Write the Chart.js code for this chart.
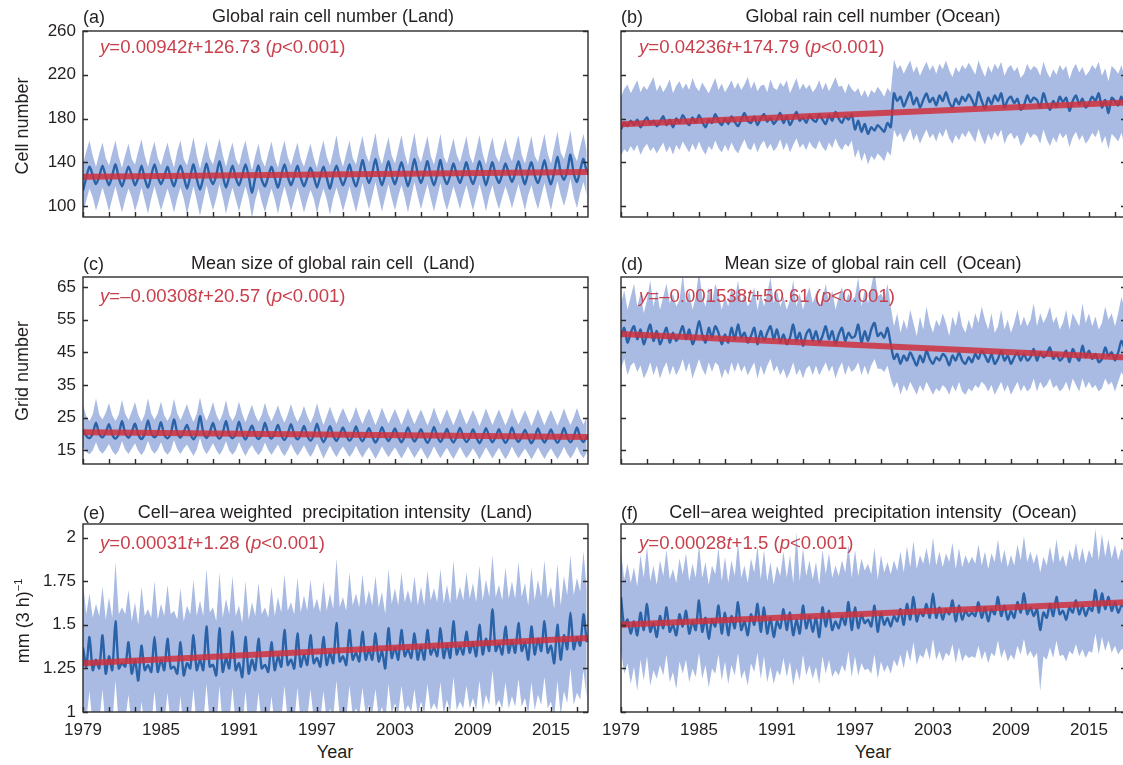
<!DOCTYPE html>
<html><head><meta charset="utf-8">
<script src="https://cdn.jsdelivr.net/npm/chart.js@4.4.1/dist/chart.umd.min.js"></script>
<style>
html,body{margin:0;padding:0;background:#fff;overflow:hidden;width:1123px;height:765px;}
body{position:relative;font-family:"Liberation Sans",Arial,sans-serif;color:#231f20;}
canvas{position:absolute;}
.t{position:absolute;white-space:pre;font-size:18px;line-height:1;transform:translate(-50%,-50%);}
.lb{position:absolute;white-space:pre;font-size:18px;line-height:1;transform:translateY(-50%);}
.eq{position:absolute;white-space:pre;font-size:18.6px;line-height:1;color:#c8404c;transform:translateY(-50%);}
.yt{position:absolute;white-space:pre;font-size:18px;line-height:1;transform:translate(-50%,-50%) rotate(-90deg);}
sup{font-size:11px;vertical-align:7px;}
</style></head><body>
<canvas id="cA" width="600" height="222" style="left:0;top:13px;width:600px;height:222px"></canvas>
<canvas id="cB" width="580" height="222" style="left:560px;top:13px;width:580px;height:222px"></canvas>
<canvas id="cC" width="600" height="223" style="left:0;top:259px;width:600px;height:223px"></canvas>
<canvas id="cD" width="580" height="223" style="left:560px;top:259px;width:580px;height:223px"></canvas>
<canvas id="cE" width="600" height="234" style="left:0;top:506px;width:600px;height:234px"></canvas>
<canvas id="cF" width="580" height="234" style="left:560px;top:506px;width:580px;height:234px"></canvas>

<div class="lb" style="left:83px;top:17px">(a)</div>
<div class="t" style="left:333px;top:16px">Global rain cell number (Land)</div>
<div class="lb" style="left:621px;top:17px">(b)</div>
<div class="t" style="left:873px;top:16px">Global rain cell number (Ocean)</div>
<div class="lb" style="left:83px;top:264px">(c)</div>
<div class="t" style="left:333px;top:263px">Mean size of global rain cell  (Land)</div>
<div class="lb" style="left:621px;top:264px">(d)</div>
<div class="t" style="left:873px;top:263px">Mean size of global rain cell  (Ocean)</div>
<div class="lb" style="left:83px;top:513px">(e)</div>
<div class="t" style="left:335px;top:512px">Cell−area weighted  precipitation intensity  (Land)</div>
<div class="lb" style="left:621px;top:513px">(f)</div>
<div class="t" style="left:873px;top:512px">Cell−area weighted  precipitation intensity  (Ocean)</div>

<div class="eq" style="left:100px;top:47px"><i>y</i>=0.00942<i>t</i>+126.73 (<i>p</i>&lt;0.001)</div>
<div class="eq" style="left:639px;top:47px"><i>y</i>=0.04236<i>t</i>+174.79 (<i>p</i>&lt;0.001)</div>
<div class="eq" style="left:100px;top:296px"><i>y</i>=–0.00308<i>t</i>+20.57 (<i>p</i>&lt;0.001)</div>
<div class="eq" style="left:639px;top:296px"><i>y</i>=–0.001538<i>t</i>+50.61 (<i>p</i>&lt;0.001)</div>
<div class="eq" style="left:100px;top:543px"><i>y</i>=0.00031<i>t</i>+1.28 (<i>p</i>&lt;0.001)</div>
<div class="eq" style="left:639px;top:543px"><i>y</i>=0.00028<i>t</i>+1.5 (<i>p</i>&lt;0.001)</div>

<div class="yt" style="left:22px;top:126px">Cell number</div>
<div class="yt" style="left:22px;top:371px">Grid number</div>
<div class="yt" style="left:22px;top:621px">mm (3 h)<sup>−1</sup></div>
<div class="t" style="left:335px;top:752px">Year</div>
<div class="t" style="left:873px;top:752px">Year</div>

<script>
// ---- axes ----
const xRange = [1979, 2017.85];
const xTickYears = [1979,1981,1983,1985,1987,1989,1991,1993,1995,1997,1999,2001,2003,2005,2007,2009,2011,2013,2015,2017];
const xLabelYears = [1979,1985,1991,1997,2003,2009,2015];
const yTicksCount = [100,140,180,220,260];
const yTicksSize = [15,25,35,45,55,65];
const yTicksInt = [1,1.25,1.5,1.75,2];
const yRangeCount = [90,260];
const yRangeSize = [10.85,68.05];
const yRangeInt = [1,2.078];

// ---- series: quarterly samples (Jan, Apr, Jul, Oct) 1979-2017 ----
const cellLandMean = [
114,126,136,128, 120,127,137,127, 119,128,138,126, 118,127,136,128, 119,126,137,125,
117,128,138,127, 120,127,136,126, 118,128,137,127, 116,127,138,125, 115,126,139,127,
120,128,141,128, 117,127,137,126, 119,128,138,127, 112,126,137,124, 118,127,136,126,
117,128,138,127, 119,127,137,126, 118,126,135,127, 117,127,136,126, 116,128,137,127,
119,127,138,126, 118,128,142,130, 121,130,143,129, 119,129,141,128, 120,130,140,129,
118,129,143,130, 121,130,141,128, 119,129,142,127, 120,128,139,129, 121,130,140,128,
120,129,141,130, 119,130,140,128, 121,129,139,130, 122,130,141,129, 120,131,140,128,
121,130,142,129, 120,131,145,131, 124,132,147,130, 122,133,143,131];
const cellLandHi = [
138,150,160,146, 136,148,158,144, 137,149,160,145, 135,147,157,143, 138,150,161,146,
136,149,159,144, 137,148,158,145, 135,150,160,143, 137,149,163,146, 134,147,159,144,
138,150,162,147, 136,148,158,143, 137,150,160,145, 133,146,157,142, 136,148,159,144,
135,149,160,145, 137,148,158,143, 136,147,157,144, 135,149,160,145, 137,150,165,146,
136,148,160,144, 138,152,164,148, 140,153,167,147, 138,151,163,146, 139,152,165,148,
137,153,167,147, 140,152,164,146, 138,151,166,145, 139,150,162,147, 140,152,164,146,
139,151,165,148, 138,152,163,146, 140,151,162,148, 141,153,165,147, 139,152,164,146,
140,153,166,148, 139,154,168,149, 143,155,169,148, 141,154,166,150];
const cellLandLo = [
92,105,116,108, 96,106,117,107, 95,107,118,106, 94,106,116,108, 95,105,117,105,
93,107,118,107, 96,106,116,106, 94,107,117,107, 92,106,118,105, 91,105,119,107,
96,107,120,108, 93,106,117,106, 95,107,118,107, 89,105,116,104, 94,106,116,106,
93,107,118,107, 95,106,117,106, 94,105,115,107, 93,106,116,106, 92,107,117,107,
95,106,118,106, 94,107,121,109, 97,109,122,108, 95,108,120,107, 96,109,119,108,
94,108,122,109, 97,109,120,107, 95,108,121,106, 96,107,118,108, 97,109,119,107,
96,108,120,109, 95,109,119,107, 97,108,118,109, 98,109,120,108, 96,110,119,107,
97,109,121,108, 96,110,123,110, 100,111,125,109, 98,112,122,110];

const cellOceanMean = [
170,176,173,178, 174,179,172,177, 181,175,178,173, 177,182,174,179, 172,180,176,183,
178,174,181,176, 183,177,172,179, 176,184,178,174, 180,175,182,177, 173,179,185,178,
176,182,174,180, 184,177,181,175, 179,185,176,182, 174,180,186,178, 181,176,183,179,
177,184,179,175, 183,178,186,180, 176,182,179,184, 170,178,168,175, 166,172,169,174,
171,168,176,172, 203,196,200,191, 198,204,193,199, 190,197,203,195, 199,192,201,196,
204,195,190,198, 193,200,196,202, 197,191,204,196, 189,199,193,201, 196,203,190,197,
200,194,198,188, 192,201,195,199, 197,190,203,194, 188,196,191,200, 195,199,187,196,
201,193,198,190, 194,200,196,203, 190,197,185,199, 196,192,200,188];
const cellOceanHi = [
200,207,211,203, 209,215,204,210, 206,212,218,205, 211,204,209,216, 203,210,214,207,
212,206,217,209, 205,213,208,203, 210,217,206,212, 204,209,215,207, 213,206,211,218,
207,214,205,210, 211,204,216,208, 206,213,209,215, 203,210,217,206, 212,207,211,204,
208,215,206,213, 205,211,218,209, 210,203,212,207, 204,208,200,206, 199,206,203,209,
205,200,208,204, 234,225,229,221, 227,233,222,228, 219,226,232,224, 229,221,230,225,
233,224,218,227, 222,229,225,231, 226,220,233,225, 218,228,222,230, 225,232,219,226,
229,223,227,217, 221,230,224,228, 226,219,232,223, 217,225,220,229, 224,228,216,225,
230,222,227,219, 223,229,225,232, 219,226,214,228, 225,221,229,217];
const cellOceanLo = [
146,152,149,155, 150,156,147,153, 157,150,154,148, 153,158,149,155, 147,156,151,159,
154,149,157,151, 159,152,147,155, 151,160,153,149, 156,150,158,152, 148,155,161,153,
151,158,149,156, 160,152,157,150, 154,161,151,158, 149,156,162,153, 157,151,159,154,
152,160,154,150, 158,153,162,155, 151,157,154,160, 144,152,141,149, 138,146,142,148,
145,141,150,146, 170,163,167,158, 165,171,160,166, 157,164,170,162, 166,159,168,163,
171,162,157,165, 160,167,163,169, 164,158,171,163, 156,166,160,168, 163,170,157,164,
167,161,165,155, 159,168,162,166, 164,157,170,161, 155,163,158,167, 162,166,154,163,
168,160,165,157, 161,167,163,170, 157,164,152,166, 163,159,167,155];

const sizeLandMean = [
21.5,19.5,18.8,20.2, 23.5,20.0,19.0,20.5, 23.0,19.8,18.6,20.0, 24.0,20.2,18.9,20.6, 23.2,19.9,18.5,20.1,
24.2,20.3,19.0,20.4, 23.6,19.8,18.7,20.0, 24.5,20.4,18.9,20.7, 22.8,20.0,18.4,20.2, 25.5,20.6,18.8,20.5,
23.4,20.1,18.6,20.3, 24.0,19.9,18.7,20.0, 23.8,20.2,18.3,20.4, 22.6,19.8,18.5,19.9, 23.5,20.1,18.6,20.2,
22.8,19.7,18.2,20.0, 23.0,19.9,18.4,19.8, 22.5,19.6,18.0,19.7, 23.2,19.8,17.5,19.5, 22.4,19.5,17.9,19.8,
22.0,19.6,18.0,19.4, 22.3,19.4,17.8,19.6, 21.8,19.3,17.4,19.2, 22.1,19.5,17.9,19.5, 21.7,19.2,17.5,19.3,
22.0,19.4,17.7,19.4, 21.5,19.1,17.3,19.1, 22.2,19.3,17.6,19.3, 21.6,19.0,17.4,19.2, 21.9,19.2,17.6,19.0,
21.4,19.1,17.2,19.1, 21.8,19.3,17.5,19.2, 21.5,19.0,17.3,19.0, 22.0,19.2,17.6,19.1, 21.3,19.0,17.2,19.0,
21.7,19.1,17.4,19.2, 21.4,18.9,17.3,19.0, 21.9,19.1,17.5,19.1, 22.0,19.0,17.6,19.3];
const sizeLandHi = [
29.0,25.5,24.0,26.0, 31.0,26.0,24.5,26.5, 29.5,25.8,24.0,26.0, 30.5,26.2,24.3,26.8, 29.8,25.9,23.8,26.1,
31.0,26.3,24.4,26.4, 30.0,25.8,24.0,26.0, 30.8,26.4,24.2,26.7, 29.2,26.0,23.7,26.2, 31.2,26.6,24.1,26.5,
29.8,26.1,23.9,26.3, 30.4,25.9,24.0,26.0, 30.0,26.2,23.6,26.4, 29.0,25.8,23.8,25.9, 29.6,26.1,23.9,26.2,
28.8,25.7,23.5,26.0, 29.2,25.9,23.7,25.8, 28.6,25.6,23.3,25.7, 29.4,25.8,22.8,25.5, 28.4,25.5,23.2,25.8,
28.0,25.6,23.3,25.4, 28.3,25.4,23.1,25.6, 27.8,25.3,22.7,25.2, 28.1,25.5,23.2,25.5, 27.7,25.2,22.8,25.3,
28.0,25.4,23.0,25.4, 27.5,25.1,22.6,25.1, 28.2,25.3,22.9,25.3, 27.6,25.0,22.7,25.2, 27.9,25.2,22.9,25.0,
27.4,25.1,22.5,25.1, 27.8,25.3,22.8,25.2, 27.5,25.0,22.6,25.0, 28.0,25.2,22.9,25.1, 27.3,25.0,22.5,25.0,
27.7,25.1,22.7,25.2, 27.4,24.9,22.6,25.0, 27.9,25.1,22.8,25.1, 28.0,25.0,22.9,25.3];
const sizeLandLo = [
16.0,14.5,13.8,15.0, 17.5,15.0,14.0,15.3, 17.0,14.8,13.6,15.0, 17.8,15.2,13.9,15.5, 17.2,14.9,13.5,15.1,
18.0,15.3,14.0,15.2, 17.5,14.8,13.7,15.0, 18.2,15.4,13.9,15.6, 16.8,15.0,13.4,15.2, 18.8,15.6,13.8,15.4,
17.3,15.1,13.6,15.2, 17.8,14.9,13.7,15.0, 17.6,15.2,13.3,15.3, 16.7,14.8,13.5,14.9, 17.4,15.1,13.6,15.2,
16.8,14.7,13.2,15.0, 17.0,14.9,13.4,14.8, 16.6,14.6,13.0,14.7, 17.1,14.8,12.5,14.5, 16.5,14.5,12.9,14.8,
16.2,14.6,13.0,14.4, 16.4,14.4,12.8,14.6, 16.0,14.3,12.4,14.2, 16.3,14.5,12.9,14.5, 15.9,14.2,12.5,14.3,
16.2,14.4,12.7,14.4, 15.8,14.1,12.3,14.1, 16.3,14.3,12.6,14.3, 15.8,14.0,12.4,14.2, 16.1,14.2,12.6,14.0,
15.7,14.1,12.2,14.1, 16.0,14.3,12.5,14.2, 15.8,14.0,12.3,14.0, 16.2,14.2,12.6,14.1, 15.6,14.0,12.2,14.0,
15.9,14.1,12.4,14.2, 15.7,13.9,12.3,14.0, 16.1,14.1,12.5,14.1, 16.2,14.0,12.6,14.3];

const sizeOceanMean = [
49.5,52.5,48.0,51.0, 53.0,49.0,52.0,47.5, 50.5,53.5,48.5,51.5, 47.5,50.0,52.5,48.0, 51.0,48.5,50.5,53.0,
49.0,52.0,47.5,50.0, 54.5,50.5,48.0,52.5, 49.5,53.0,51.0,47.5, 50.5,48.0,52.5,49.0, 53.5,49.5,51.0,48.0,
50.0,52.5,47.5,51.5, 48.5,51.0,53.0,49.0, 52.0,48.0,50.5,47.5, 49.5,53.5,48.5,51.0, 47.0,50.5,52.0,48.5,
51.5,48.0,50.0,53.0, 49.0,51.5,47.5,50.5, 52.5,48.5,51.0,49.5, 50.0,53.5,48.0,51.5, 48.5,52.0,54.0,50.0,
51.0,49.5,52.5,47.5, 43.0,44.5,41.5,44.0, 42.5,45.0,43.0,41.0, 44.0,42.0,45.5,43.0, 41.5,43.5,42.5,44.5,
43.5,41.0,44.0,42.5, 45.0,42.5,41.5,43.5, 42.0,44.5,43.0,45.5, 44.0,42.0,44.5,41.5, 43.0,45.5,42.5,44.0,
41.5,43.5,45.0,42.5, 44.5,42.5,43.5,46.0, 42.5,45.0,43.5,44.5, 46.5,43.0,44.5,42.5, 43.5,45.5,42.0,46.0,
44.0,42.5,47.0,43.5, 45.5,43.0,44.5,42.0, 43.0,46.5,44.0,45.0, 42.5,45.0,48.5,46.0];
const sizeOceanHi = [
60,64,58,62, 66,59,63,57, 61,67,59,64, 58,62,66,60, 63,59,61,69,
60,64,58,62, 70,62,59,65, 60,66,63,58, 62,59,65,61, 67,60,63,59,
61,65,58,63, 59,63,68,60, 64,59,62,58, 61,67,59,63, 58,62,65,60,
63,59,61,66, 60,64,58,62, 65,60,63,61, 62,68,59,64, 60,65,70,62,
63,61,66,59, 53,57,51,55, 52,58,54,50, 56,52,59,54, 51,55,53,57,
54,50,56,53, 58,53,51,55, 52,57,54,59, 55,52,57,51, 53,58,52,55,
51,54,58,53, 56,53,55,60, 53,57,54,56, 59,54,56,52, 54,58,52,57,
55,53,60,54, 57,53,56,52, 54,59,55,57, 53,57,62,58];
const sizeOceanLo = [
40,43,38,41, 42,39,41,37, 39,42,38,41, 37,40,42,38, 41,38,40,43,
39,42,37,40, 43,40,38,42, 39,42,41,37, 40,38,42,39, 42,39,41,38,
40,42,37,41, 38,41,43,39, 41,38,40,37, 39,42,38,40, 37,40,41,38,
41,38,40,42, 39,41,37,40, 42,38,41,39, 40,42,38,41, 38,41,43,40,
40,39,41,37, 34,36,32,35, 33,36,34,32, 35,33,36,34, 32,34,33,35,
34,32,35,33, 36,33,32,34, 33,35,34,36, 35,33,35,32, 34,36,33,35,
32,34,36,33, 35,33,34,37, 33,36,34,35, 37,34,35,33, 34,36,33,37,
35,33,37,34, 36,34,35,33, 34,37,35,36, 33,36,39,37];

const intLandMean = [
1.37,1.26,1.43,1.24, 1.30,1.25,1.44,1.22, 1.32,1.24,1.52,1.25, 1.28,1.26,1.40,1.22, 1.30,1.18,1.38,1.24,
1.27,1.23,1.43,1.23, 1.30,1.24,1.42,1.25, 1.26,1.22,1.40,1.21, 1.28,1.25,1.44,1.24, 1.30,1.24,1.49,1.26,
1.27,1.21,1.48,1.23, 1.31,1.25,1.46,1.24, 1.28,1.20,1.43,1.22, 1.30,1.24,1.42,1.25, 1.27,1.23,1.40,1.24,
1.32,1.26,1.47,1.27, 1.30,1.25,1.45,1.26, 1.33,1.27,1.44,1.28, 1.31,1.26,1.43,1.27, 1.34,1.28,1.51,1.29,
1.32,1.27,1.47,1.30, 1.34,1.29,1.46,1.30, 1.36,1.30,1.45,1.29, 1.35,1.25,1.48,1.31, 1.37,1.30,1.47,1.32,
1.36,1.31,1.45,1.30, 1.38,1.30,1.47,1.33, 1.37,1.32,1.48,1.31, 1.39,1.31,1.52,1.33, 1.38,1.33,1.46,1.34,
1.40,1.32,1.50,1.33, 1.42,1.35,1.59,1.35, 1.39,1.33,1.49,1.34, 1.41,1.34,1.51,1.35, 1.40,1.30,1.49,1.33,
1.42,1.35,1.52,1.34, 1.38,1.28,1.50,1.30, 1.44,1.36,1.57,1.36, 1.43,1.38,1.56,1.40];
const intLandHi = [
1.75,1.56,1.68,1.54, 1.62,1.55,1.72,1.53, 1.66,1.54,1.86,1.56, 1.60,1.56,1.70,1.52, 1.63,1.50,1.72,1.55,
1.59,1.54,1.75,1.53, 1.62,1.55,1.73,1.56, 1.58,1.53,1.71,1.52, 1.61,1.56,1.76,1.55, 1.64,1.55,1.82,1.57,
1.60,1.52,1.80,1.54, 1.65,1.56,1.78,1.55, 1.61,1.51,1.75,1.53, 1.63,1.55,1.74,1.56, 1.60,1.54,1.72,1.55,
1.66,1.57,1.79,1.58, 1.63,1.56,1.77,1.57, 1.67,1.58,1.76,1.59, 1.65,1.57,1.75,1.58, 1.68,1.59,1.88,1.60,
1.66,1.58,1.80,1.61, 1.68,1.60,1.79,1.61, 1.70,1.61,1.78,1.60, 1.69,1.56,1.82,1.62, 1.71,1.61,1.80,1.63,
1.70,1.62,1.78,1.61, 1.72,1.61,1.81,1.64, 1.71,1.63,1.82,1.62, 1.73,1.62,1.87,1.64, 1.72,1.64,1.80,1.65,
1.74,1.63,1.84,1.64, 1.76,1.66,1.90,1.66, 1.73,1.64,1.83,1.65, 1.75,1.65,1.86,1.66, 1.74,1.61,1.83,1.64,
1.76,1.66,1.87,1.65, 1.72,1.59,1.85,1.61, 1.78,1.67,1.90,1.67, 1.77,1.69,1.92,1.71];
const intLandLo = [
1.05,0.95,1.12,0.92, 0.98,0.94,1.13,0.90, 1.00,0.93,1.18,0.93, 0.96,0.95,1.10,0.90, 0.98,0.87,1.06,0.92,
0.95,0.92,1.12,0.91, 0.98,0.93,1.11,0.93, 0.94,0.91,1.09,0.89, 0.96,0.94,1.13,0.92, 0.98,0.93,1.16,0.94,
0.95,0.90,1.15,0.91, 0.99,0.94,1.14,0.92, 0.96,0.89,1.12,0.90, 0.98,0.93,1.11,0.93, 0.95,0.92,1.09,0.92,
1.00,0.95,1.15,0.95, 0.98,0.94,1.14,0.94, 1.01,0.96,1.13,0.96, 0.99,0.95,1.12,0.95, 1.02,0.97,1.18,0.97,
1.00,0.96,1.15,0.98, 1.02,0.98,1.14,0.98, 1.04,0.99,1.13,0.97, 1.03,0.94,1.16,0.99, 1.05,0.99,1.15,1.00,
1.04,1.00,1.13,0.98, 1.06,0.99,1.16,1.01, 1.05,1.01,1.17,0.99, 1.07,1.00,1.20,1.01, 1.06,1.02,1.15,1.02,
1.08,1.01,1.18,1.01, 1.10,1.04,1.24,1.03, 1.07,1.02,1.17,1.02, 1.09,1.03,1.19,1.03, 1.08,0.99,1.17,1.01,
1.10,1.04,1.20,1.02, 1.06,0.97,1.18,0.98, 1.12,1.05,1.25,1.04, 1.11,1.07,1.24,1.08];

const intOceanMean = [
1.66,1.49,1.53,1.45, 1.52,1.44,1.57,1.47, 1.62,1.46,1.51,1.43, 1.55,1.48,1.60,1.46, 1.50,1.44,1.56,1.49,
1.58,1.45,1.52,1.47, 1.64,1.46,1.54,1.42, 1.53,1.49,1.61,1.45, 1.57,1.44,1.55,1.48, 1.63,1.47,1.52,1.44,
1.56,1.50,1.62,1.46, 1.60,1.45,1.54,1.43, 1.52,1.48,1.59,1.47, 1.57,1.44,1.53,1.45, 1.61,1.48,1.55,1.46,
1.54,1.43,1.60,1.49, 1.58,1.47,1.52,1.48, 1.55,1.50,1.63,1.47, 1.60,1.48,1.56,1.51, 1.53,1.49,1.61,1.46,
1.57,1.50,1.54,1.49, 1.55,1.52,1.59,1.50, 1.62,1.53,1.66,1.52, 1.58,1.55,1.62,1.54, 1.68,1.54,1.60,1.53,
1.59,1.56,1.64,1.52, 1.61,1.53,1.58,1.55, 1.57,1.55,1.63,1.54, 1.60,1.52,1.59,1.56, 1.66,1.55,1.61,1.53,
1.58,1.54,1.63,1.57, 1.68,1.56,1.60,1.55, 1.59,1.47,1.57,1.54, 1.62,1.55,1.66,1.56, 1.58,1.53,1.60,1.57,
1.64,1.56,1.61,1.55, 1.60,1.58,1.70,1.57, 1.68,1.59,1.66,1.58, 1.63,1.57,1.61,1.60];
const intOceanHi = [
1.92,1.76,1.85,1.74, 1.83,1.72,1.90,1.77, 1.95,1.75,1.84,1.73, 1.87,1.78,1.93,1.76, 1.82,1.74,1.88,1.79,
1.91,1.75,1.85,1.77, 1.96,1.77,1.86,1.73, 1.84,1.79,1.94,1.75, 1.89,1.74,1.87,1.78, 1.97,1.77,1.84,1.74,
1.88,1.80,1.95,1.76, 1.93,1.75,1.86,1.73, 1.84,1.78,1.92,1.77, 1.90,1.74,2.03,1.75, 1.94,1.78,1.87,1.76,
1.86,1.73,1.93,1.79, 1.91,1.77,1.84,1.78, 1.87,1.80,1.96,1.77, 1.93,1.78,1.88,1.81, 1.85,1.79,1.94,1.76,
1.90,1.80,1.86,1.79, 1.87,1.81,1.92,1.80, 1.95,1.83,1.98,1.82, 1.90,1.85,1.94,1.84, 2.00,1.84,1.92,1.83,
1.91,1.86,1.97,1.82, 1.94,1.83,1.90,1.85, 1.89,1.85,1.96,1.84, 1.92,1.82,1.91,1.86, 1.99,1.85,1.93,1.83,
1.90,1.84,1.96,1.87, 2.01,1.86,1.92,1.85, 1.91,1.80,1.89,1.84, 1.95,1.85,1.99,1.86, 1.90,1.83,1.93,1.87,
1.97,1.86,1.94,1.85, 1.93,1.88,2.05,1.87, 2.02,1.89,1.99,1.88, 1.96,1.87,1.94,1.90];
const intOceanLo = [
1.35,1.22,1.28,1.16, 1.26,1.12,1.30,1.18, 1.32,1.15,1.24,1.19, 1.27,1.21,1.33,1.17, 1.23,1.13,1.29,1.22,
1.30,1.17,1.25,1.20, 1.34,1.19,1.27,1.14, 1.25,1.22,1.33,1.18, 1.29,1.16,1.27,1.21, 1.34,1.19,1.24,1.15,
1.28,1.23,1.34,1.19, 1.32,1.17,1.26,1.16, 1.24,1.21,1.31,1.20, 1.29,1.15,1.25,1.18, 1.33,1.21,1.27,1.19,
1.26,1.16,1.32,1.22, 1.30,1.20,1.24,1.21, 1.27,1.23,1.35,1.20, 1.32,1.21,1.28,1.24, 1.25,1.22,1.33,1.19,
1.29,1.23,1.27,1.22, 1.30,1.26,1.33,1.25, 1.36,1.29,1.40,1.27, 1.33,1.31,1.37,1.30, 1.42,1.30,1.35,1.29,
1.34,1.32,1.39,1.28, 1.37,1.29,1.33,1.31, 1.32,1.31,1.38,1.30, 1.35,1.28,1.34,1.32, 1.41,1.31,1.36,1.29,
1.33,1.30,1.38,1.33, 1.42,1.32,1.35,1.31, 1.34,1.12,1.32,1.30, 1.37,1.31,1.41,1.32, 1.33,1.29,1.35,1.33,
1.39,1.32,1.36,1.31, 1.35,1.34,1.45,1.33, 1.43,1.35,1.41,1.34, 1.38,1.33,1.36,1.36];

// linear trends: value at left and right ends of the time axis
const trendCellLand = [126.73, 131.1];
const trendCellOcean = [174.79, 194.6];
const trendSizeLand = [20.57, 19.12];
const trendSizeOcean = [50.6, 43.4];
const trendIntLand = [1.28, 1.425];
const trendIntOcean = [1.50, 1.63];

// ---- drawing ----
const BAND = '#a9bbe3';
const BLUE = '#2a62a8';
const RED = 'rgba(207,48,60,0.85)';
const FONT = '"Liberation Sans", Arial, sans-serif';
const TXT = '#231f20';

function series(vals) { return vals.map((v, i) => ({ x: 1979 + i * 0.25, y: v })); }

const framePlugin = {
  id: 'frame',
  afterDatasetsDraw(chart, args, opts) {
    const { ctx, chartArea: a, scales: { x, y } } = chart;
    ctx.save();
    ctx.strokeStyle = '#2b2b2b';
    ctx.lineWidth = 1.4;
    ctx.strokeRect(a.left, a.top, a.right - a.left, a.bottom - a.top);
    ctx.beginPath();
    const L = 5;
    for (const v of opts.yTicks) {
      const py = Math.round(y.getPixelForValue(v)) + 0.5;
      ctx.moveTo(a.left, py); ctx.lineTo(a.left + L, py);
      ctx.moveTo(a.right, py); ctx.lineTo(a.right - L, py);
    }
    for (const v of xTickYears) {
      const px = Math.round(x.getPixelForValue(v)) + 0.5;
      ctx.moveTo(px, a.bottom); ctx.lineTo(px, a.bottom - L);
    }
    ctx.stroke();
    ctx.restore();
  }
};

function makePanel(id, p) {
  new Chart(document.getElementById(id), {
    type: 'line',
    data: {
      datasets: [
        { data: series(p.hi), fill: '+1', backgroundColor: BAND, borderWidth: 0, pointRadius: 0, order: 2, clip: 0 },
        { data: series(p.lo), fill: false, borderWidth: 0, pointRadius: 0, order: 3, clip: 0 },
        { data: series(p.mean), fill: false, borderColor: BLUE, borderWidth: 2.4, pointRadius: 0, tension: 0.25, order: 1, clip: 0 },
        { data: [{ x: xRange[0], y: p.trend[0] }, { x: xRange[1], y: p.trend[1] }], fill: false, borderColor: RED, borderWidth: 6, pointRadius: 0, order: 0, clip: 0 }
      ]
    },
    options: {
      responsive: false, animation: false, devicePixelRatio: 1,
      layout: { padding: { left: 0, right: p.padR, top: 18, bottom: p.showX ? 0 : 18 } },
      plugins: { legend: { display: false }, tooltip: { enabled: false }, frame: { yTicks: p.yTicks } },
      scales: {
        x: {
          type: 'linear', min: xRange[0], max: xRange[1], display: p.showX,
          afterBuildTicks: s => { s.ticks = xTickYears.map(v => ({ value: v })); },
          afterFit: s => { s.height = p.showX ? 28 : 0; },
          ticks: { autoSkip: false, maxRotation: 0, minRotation: 0, padding: 8, color: TXT, font: { family: FONT, size: 17 },
                   callback: v => xLabelYears.includes(v) ? String(v) : '' },
          grid: { display: false, drawTicks: false }, border: { display: false }
        },
        y: {
          type: 'linear', min: p.yRange[0], max: p.yRange[1],
          afterBuildTicks: s => { s.ticks = p.yTicks.map(v => ({ value: v })); },
          afterFit: s => { s.width = p.yWidth; },
          ticks: { display: p.showY, padding: 7, color: TXT, font: { family: FONT, size: 17 }, callback: v => String(v) },
          grid: { display: false, drawTicks: false }, border: { display: false }
        }
      }
    },
    plugins: [framePlugin]
  });
}

const L = { yWidth: 83, padR: 12, showY: true };
const R = { yWidth: 61, padR: 14, showY: false };

makePanel('cA', Object.assign({}, L, { mean: cellLandMean, hi: cellLandHi, lo: cellLandLo, trend: trendCellLand, yTicks: yTicksCount, yRange: yRangeCount, showX: false }));
makePanel('cB', Object.assign({}, R, { mean: cellOceanMean, hi: cellOceanHi, lo: cellOceanLo, trend: trendCellOcean, yTicks: yTicksCount, yRange: yRangeCount, showX: false }));
makePanel('cC', Object.assign({}, L, { mean: sizeLandMean, hi: sizeLandHi, lo: sizeLandLo, trend: trendSizeLand, yTicks: yTicksSize, yRange: yRangeSize, showX: false }));
makePanel('cD', Object.assign({}, R, { mean: sizeOceanMean, hi: sizeOceanHi, lo: sizeOceanLo, trend: trendSizeOcean, yTicks: yTicksSize, yRange: yRangeSize, showX: false }));
makePanel('cE', Object.assign({}, L, { mean: intLandMean, hi: intLandHi, lo: intLandLo, trend: trendIntLand, yTicks: yTicksInt, yRange: yRangeInt, showX: true }));
makePanel('cF', Object.assign({}, R, { mean: intOceanMean, hi: intOceanHi, lo: intOceanLo, trend: trendIntOcean, yTicks: yTicksInt, yRange: yRangeInt, showX: true }));
</script>
</body></html>
